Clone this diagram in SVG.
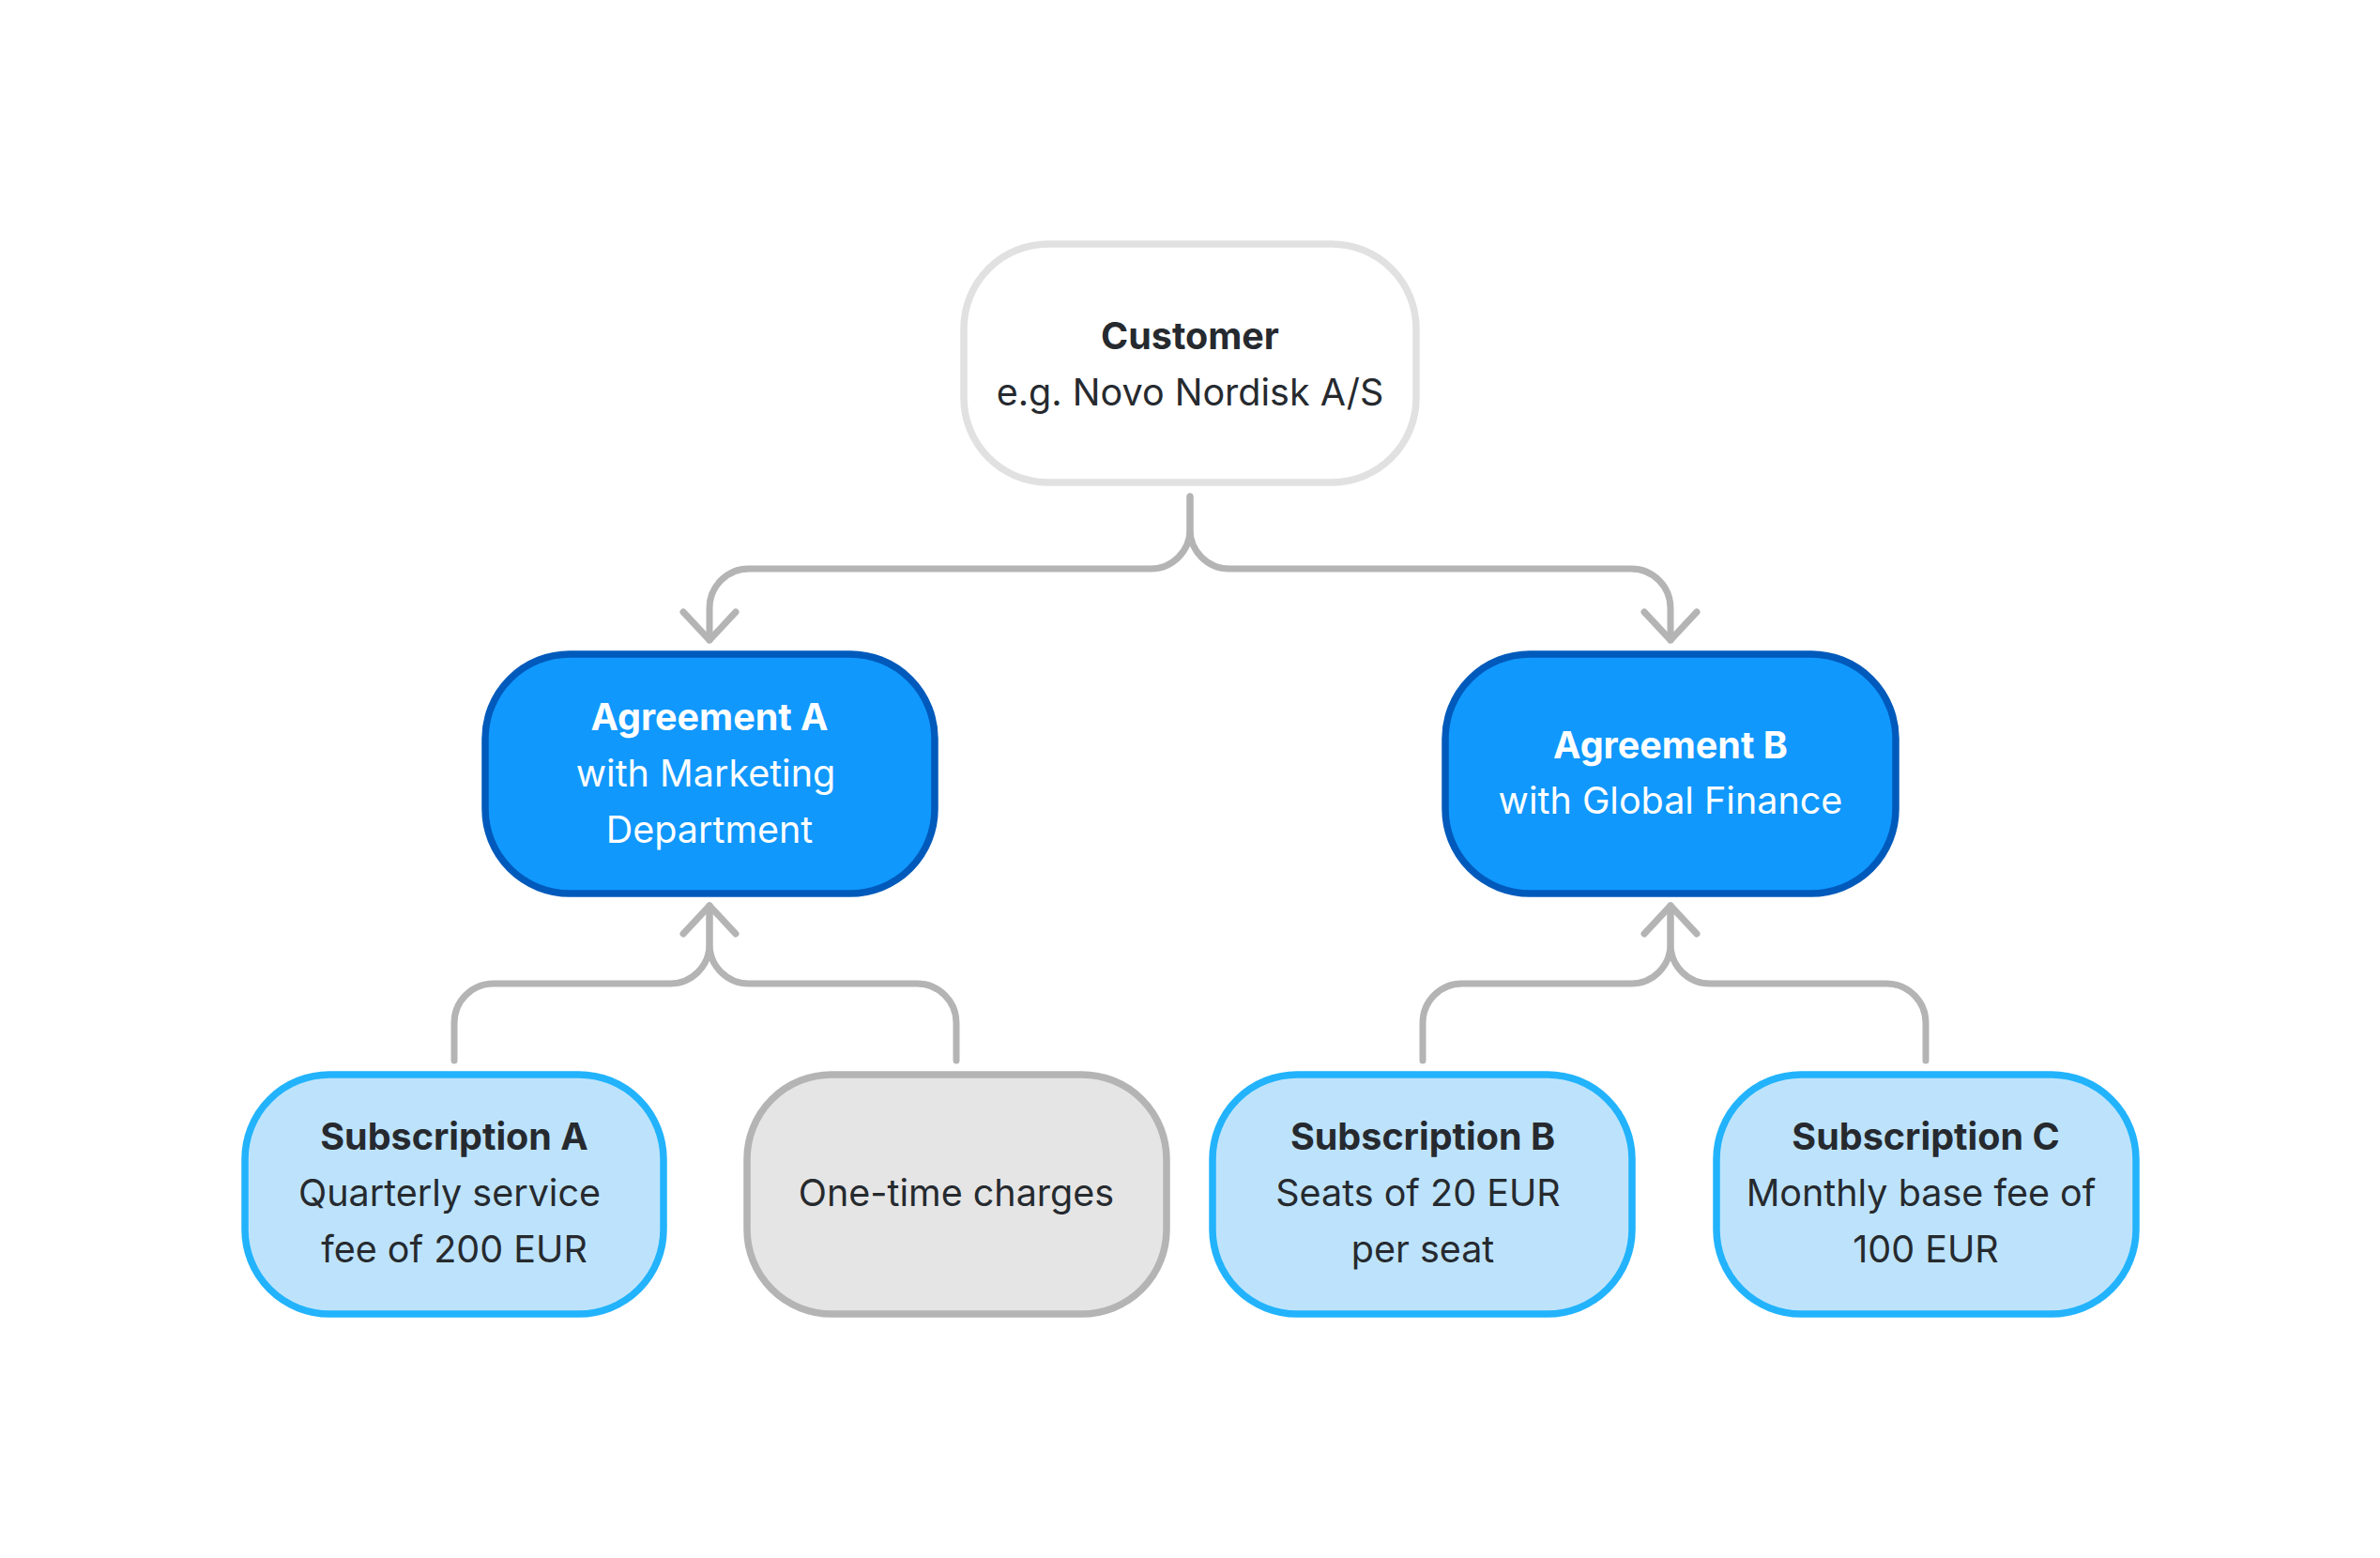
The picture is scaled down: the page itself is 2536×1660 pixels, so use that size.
<svg xmlns="http://www.w3.org/2000/svg" width="2536" height="1660" viewBox="0 0 2536 1660">
  <style>
    .node rect { stroke-width: 7.5; }
    .cust rect { fill: #ffffff; stroke: #e1e1e1; }
    .agr rect { fill: #1098fd; stroke: #005abb; }
    .sub rect { fill: #bde3fc; stroke: #22b3fc; }
    .misc rect { fill: #e5e5e5; stroke: #b4b4b4; }
    text { font-family: Inter, "Noto Sans", "Liberation Sans", sans-serif; font-size: 39.5px; text-anchor: middle; fill: #262a2f; }
    .agr text { fill: #ffffff; }
    .b { font-weight: 700; }
    .conn path { fill: none; stroke: #b4b4b4; stroke-width: 7; stroke-linecap: round; stroke-linejoin: round; }
  </style>
  <rect width="2536" height="1660" fill="#ffffff"/>

  <g id="connectors" class="conn">
    <path d="M1268 529 V564 A42 42 0 0 1 1226 606 H798 A42 42 0 0 0 756 648 V682"/>
    <path d="M728 652 L756 682 L784 652"/>
    <path d="M1268 529 V564 A42 42 0 0 0 1310 606 H1738 A42 42 0 0 1 1780 648 V682"/>
    <path d="M1752 652 L1780 682 L1808 652"/>

    <path d="M484 1130 V1090 A42 42 0 0 1 526 1048 H714 A42 42 0 0 0 756 1006 V965"/>
    <path d="M1019 1130 V1090 A42 42 0 0 0 977 1048 H798 A42 42 0 0 1 756 1006 V965"/>
    <path d="M728 995 L756 965 L784 995"/>

    <path d="M1516 1130 V1090 A42 42 0 0 1 1558 1048 H1738 A42 42 0 0 0 1780 1006 V965"/>
    <path d="M2052 1130 V1090 A42 42 0 0 0 2010 1048 H1822 A42 42 0 0 1 1780 1006 V965"/>
    <path d="M1752 995 L1780 965 L1808 995"/>
  </g>

  <g id="customer" class="node cust">
    <rect x="1027" y="260" width="482" height="254" rx="90" ry="90"/>
    <text x="1268" y="372" class="b">Customer</text>
    <text x="1268" y="432">e.g. Novo Nordisk A/S</text>
  </g>

  <g id="agreement-a" class="node agr">
    <rect x="517" y="697" width="479" height="255" rx="90" ry="90"/>
    <text x="756" y="778" class="b">Agreement A</text>
    <text x="752" y="838">with Marketing</text>
    <text x="756" y="898">Department</text>
  </g>

  <g id="agreement-b" class="node agr">
    <rect x="1540" y="697" width="480" height="255" rx="90" ry="90"/>
    <text x="1780" y="808" class="b">Agreement B</text>
    <text x="1780" y="867">with Global Finance</text>
  </g>

  <g id="subscription-a" class="node sub">
    <rect x="261" y="1145" width="446" height="255" rx="90" ry="90"/>
    <text x="484" y="1225" class="b">Subscription A</text>
    <text x="479" y="1285">Quarterly service</text>
    <text x="484" y="1345">fee of 200 EUR</text>
  </g>

  <g id="one-time" class="node misc">
    <rect x="796" y="1145" width="447" height="255" rx="90" ry="90"/>
    <text x="1019" y="1285">One-time charges</text>
  </g>

  <g id="subscription-b" class="node sub">
    <rect x="1292" y="1145" width="447" height="255" rx="90" ry="90"/>
    <text x="1516" y="1225" class="b">Subscription B</text>
    <text x="1511" y="1285">Seats of 20 EUR</text>
    <text x="1516" y="1345">per seat</text>
  </g>

  <g id="subscription-c" class="node sub">
    <rect x="1829" y="1145" width="447" height="255" rx="90" ry="90"/>
    <text x="2052" y="1225" class="b">Subscription C</text>
    <text x="2047" y="1285">Monthly base fee of</text>
    <text x="2052" y="1345">100 EUR</text>
  </g>
</svg>
